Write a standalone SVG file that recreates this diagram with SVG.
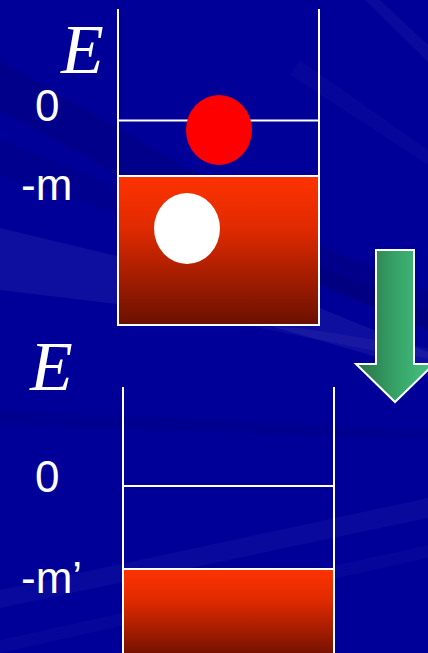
<svg xmlns="http://www.w3.org/2000/svg" width="428" height="653" viewBox="0 0 428 653">
<defs>
<linearGradient id="redGrad" x1="0" y1="0" x2="0" y2="1">
<stop offset="0" stop-color="#ff3300"/>
<stop offset="0.35" stop-color="#e02a00"/>
<stop offset="1" stop-color="#6a1000"/>
</linearGradient>
<linearGradient id="greenGrad" x1="0" y1="0" x2="1" y2="0">
<stop offset="0" stop-color="#277048"/>
<stop offset="0.5" stop-color="#36a266"/>
<stop offset="1" stop-color="#46c585"/>
</linearGradient>
</defs>
<style>
.wall{stroke:#ffffff;stroke-width:2;fill:none}
.lbl{font-family:"Liberation Sans",Arial,sans-serif;font-size:44px;fill:#ffffff}
.eLbl{font-family:"Liberation Serif","Times New Roman",serif;font-style:italic;font-size:70px;fill:#ffffff}
.streak{fill:#ffffff}
.dark{fill:#000050}
</style>
<g id="background">
<rect x="0" y="0" width="428" height="653" fill="#000099"/>
<polygon class="dark" opacity="0.2" points="0,60 0,110 330,290 428,330 428,290 330,250"/>
<polygon class="dark" opacity="0.14" points="0,140 0,175 260,260 428,330 428,310"/>
<polygon class="streak" opacity="0.06" points="0,228 0,290 250,320 428,372 428,352 300,300"/>
<polygon class="streak" opacity="0.04" points="250,326 380,352 428,358 428,348 300,328"/>
<polygon class="streak" opacity="0.04" points="365,0 380,0 428,45 428,62"/>
<polygon class="streak" opacity="0.025" points="300,60 428,150 428,165 290,75"/>
<polygon class="dark" opacity="0.12" points="0,410 428,430 428,440 0,425"/>
<polygon class="streak" opacity="0.035" points="0,590 428,498 428,518 0,608"/>
<polygon class="streak" opacity="0.025" points="0,640 428,545 428,558 0,653"/>
</g>
<g id="well-top">
<rect x="118" y="176" width="201" height="149" fill="url(#redGrad)" stroke="#ffffff" stroke-width="2"/>
<line class="wall" x1="118" y1="9" x2="118" y2="325"/>
<line class="wall" x1="319" y1="9" x2="319" y2="325"/>
<line class="wall" x1="118" y1="120.5" x2="319" y2="120.5"/>
</g>
<g id="electron">
<ellipse cx="219" cy="130" rx="33" ry="35" fill="#ff0000"/>
</g>
<g id="hole">
<ellipse cx="187" cy="228.5" rx="33" ry="35.5" fill="#ffffff"/>
</g>
<g id="labels-top">
<text class="eLbl" x="61" y="73">E</text>
<text class="lbl" x="35" y="121">0</text>
<text class="lbl" x="21" y="200">-m</text>
</g>
<g id="arrow">
<polygon points="376,250 414,250 414,364 434,364 395,402 356,364 376,364" fill="url(#greenGrad)" stroke="#ffffff" stroke-width="2" stroke-linejoin="miter"/>
</g>
<g id="well-bottom">
<rect x="123" y="569" width="211" height="90" fill="url(#redGrad)" stroke="#ffffff" stroke-width="2"/>
<line class="wall" x1="123" y1="387" x2="123" y2="653"/>
<line class="wall" x1="334" y1="387" x2="334" y2="653"/>
<line class="wall" x1="123" y1="486" x2="334" y2="486"/>
</g>
<g id="labels-bottom">
<text class="eLbl" x="30" y="390">E</text>
<text class="lbl" x="35" y="492">0</text>
<text class="lbl" x="21" y="593">-m’</text>
</g>
<g id="connectors"></g>
</svg>
